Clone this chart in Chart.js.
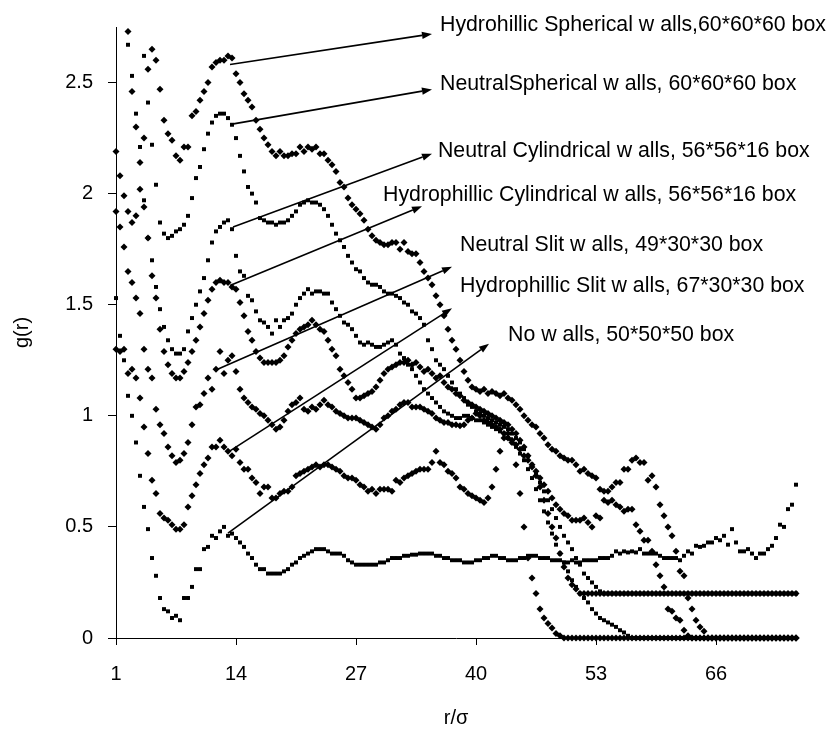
<!DOCTYPE html>
<html>
<head>
<meta charset="utf-8">
<script src="https://cdn.jsdelivr.net/npm/chart.js@4.4.1/dist/chart.umd.min.js"></script>
<style>
  html, body { margin: 0; padding: 0; background: #ffffff; }
  #wrap { width: 829px; height: 730px; }
</style>
</head>
<body>
<div id="wrap"><canvas id="c" width="829" height="730"></canvas></div>
<script>
// ---- sampling grid of r/sigma (category spacing: 30 samples per 13 units) ----
const rStart = 1;
const rStep = 13 / 30;
const xTickValues = [1, 14, 27, 40, 53, 66];
const yTickValues = [0, 0.5, 1, 1.5, 2, 2.5];

// ---- series values g(r), one per sample ----
const hydrophilicSpherical = [
  2.19, 2.08, 1.99, 1.92, 1.87, 1.90, 2.02, 2.25, 2.56, 2.65,
  2.60, 2.47, 2.33, 2.27, 2.24, 2.17, 2.15, 2.21, 2.21, 2.35,
  2.37, 2.42, 2.46, 2.50, 2.57, 2.59, 2.60, 2.60, 2.62, 2.61,
  2.54, 2.50, 2.45, 2.42, 2.39, 2.33, 2.29, 2.25, 2.22, 2.19,
  2.17, 2.19, 2.17, 2.17, 2.18, 2.18, 2.21, 2.19, 2.21, 2.20,
  2.21, 2.18, 2.18, 2.15, 2.13, 2.10, 2.05, 2.03, 1.98, 1.95,
  1.93, 1.91, 1.88, 1.84, 1.81, 1.79, 1.78, 1.77, 1.77, 1.78,
  1.78, 1.75, 1.78, 1.74, 1.73, 1.73, 1.69, 1.65, 1.62, 1.59,
  1.54, 1.50, 1.45, 1.39, 1.34, 1.30, 1.25, 1.20, 1.16, 1.13,
  1.12, 1.11, 1.12, 1.10, 1.11, 1.10, 1.09, 1.10, 1.08, 1.07,
  1.05, 1.03, 1.00, 0.98, 0.96, 0.95, 0.92, 0.90, 0.87, 0.85,
  0.84, 0.82, 0.81, 0.80, 0.80, 0.78, 0.75, 0.76, 0.74, 0.73,
  0.72, 0.67, 0.66, 0.66, 0.68, 0.70, 0.70, 0.76, 0.76, 0.80,
  0.81, 0.79, 0.79, 0.71, 0.73, 0.68, 0.60, 0.55, 0.50, 0.46,
  0.39, 0.30, 0.28, 0.18, 0.13, 0.08, 0.05, 0.03, 0, 0,
  0, 0, 0, 0, 0, 0, 0, 0, 0, 0,
  0, 0, 0, 0, 0, 0, 0, 0, 0, 0, 0
];
const neutralSpherical = [
  null, null, null, null, null, null, null, 2.62, 2.41, 2.22,
  2.04, 1.87, 1.82, 1.80, 1.81, 1.83, 1.84, 1.86, 1.90, 1.98,
  2.07, 2.12, 2.20, 2.27, 2.32, 2.35, 2.36, 2.36, 2.34, 2.31,
  2.25, 2.17, 2.10, 2.03, 2.00, 1.96, 1.89, 1.88, 1.87, 1.87,
  1.86, 1.87, 1.87, 1.88, 1.90, 1.92, 1.95, 1.96, 1.97, 1.96,
  1.96, 1.95, 1.93, 1.90, 1.86, 1.82, 1.79, 1.76, 1.72, 1.69,
  1.66, 1.65, 1.62, 1.60, 1.59, 1.59, 1.58, 1.56, 1.55, 1.55,
  1.54, 1.53, 1.51, 1.50, 1.47, 1.46, 1.44, 1.41, 1.34, 1.30,
  1.25, 1.23, 1.21, 1.18, 1.15, 1.12, 1.10, 1.08, 1.05, 1.04,
  1.02, 1.01, 1.00, 0.99, 0.98, 0.97, 0.96, 0.95, 0.94, 0.92,
  0.90, 0.88, 0.85, 0.82, 0.78, 0.74, 0.70, 0.66, 0.62, 0.58,
  0.54, 0.50, 0.46, 0.43, 0.40, 0.36, 0.33, 0.29, 0.27, 0.25,
  0.23, 0.21, 0.2, 0.2, 0.2, 0.2, 0.2, 0.2, 0.2, 0.2,
  0.2, 0.2, 0.2, 0.2, 0.2, 0.2, 0.2, 0.2, 0.2, 0.2,
  0.2, 0.2, 0.2, 0.2, 0.2, 0.2, 0.2, 0.2, 0.2, 0.2,
  0.2, 0.2, 0.2, 0.2, 0.2, 0.2, 0.2, 0.2, 0.2, 0.2,
  0.2, 0.2, 0.2, 0.2, 0.2, 0.2, 0.2, 0.2, 0.2, 0.2, 0.2
];
const neutralCylindrical = [
  null, null, null, 2.67, 2.53, 2.36, 2.21, 1.97, 1.80, 1.70,
  1.58, 1.48, 1.40, 1.34, 1.30, 1.28, 1.28, 1.30, 1.38, 1.44,
  1.50, 1.56, 1.62, 1.70, 1.78, 1.83, 1.85, 1.87, 1.88, 1.84,
  1.72, 1.65, 1.63, 1.54, 1.52, 1.47, 1.43, 1.42, 1.40, 1.37,
  1.43, 1.40, 1.43, 1.44, 1.46, 1.50, 1.53, 1.55, 1.57, 1.55,
  1.56, 1.56, 1.55, 1.55, 1.51, 1.48, 1.45, 1.42, 1.41, 1.39,
  1.36, 1.33, 1.32, 1.33, 1.32, 1.31, 1.31, 1.32, 1.33, 1.34,
  1.32, 1.28, 1.26, 1.23, 1.21, 1.18, 1.15, 1.12, 1.10, 1.08,
  1.06, 1.04, 1.02, 1.01, 1.00, 0.99, 0.99, 1.00, 1.00, 0.99,
  0.98, 0.98, 0.97, 0.96, 0.95, 0.94, 0.93, 0.92, 0.90, 0.88,
  0.86, 0.83, 0.80, 0.76, 0.72, 0.67, 0.62, 0.57, 0.52, 0.47,
  0.42, 0.38, 0.34, 0.30, 0.26, 0.23, 0.20, 0.18, 0.16, 0.13,
  0.11, 0.09, 0.08, 0.07, 0.06, 0.05, 0.035, 0.025, 0.01, 0,
  0, 0, 0, 0, 0, 0, 0, 0, 0, 0,
  0, 0, 0, 0, 0, 0, 0, 0, 0, 0,
  0, 0, 0, 0, 0, 0, 0, 0, 0, 0,
  0, 0, 0, 0, 0, 0, 0, 0, 0, 0, 0
];
const hydrophilicCylindrical = [
  null, null, null, 2.73, 2.46, 2.30, 2.14, 1.94, 1.80, 1.63,
  1.53, 1.39, 1.29, 1.23, 1.19, 1.17, 1.17, 1.20, 1.24, 1.29,
  1.34, 1.40, 1.46, 1.52, 1.57, 1.60, 1.61, 1.60, 1.60, 1.58,
  1.57, 1.51, 1.45, 1.38, 1.34, 1.29, 1.26, 1.24, 1.24, 1.24,
  1.24, 1.25, 1.27, 1.31, 1.34, 1.37, 1.39, 1.40, 1.41, 1.43,
  1.41, 1.39, 1.38, 1.34, 1.30, 1.27, 1.21, 1.18, 1.15, 1.12,
  1.08, 1.08, 1.09, 1.10, 1.11, 1.13, 1.16, 1.19, 1.21, 1.22,
  1.23, 1.24, 1.24, 1.25, 1.23, 1.24, 1.22, 1.20, 1.21, 1.19,
  1.17, 1.18, 1.15, 1.13, 1.12, 1.10, 1.09, 1.07, 1.06, 1.05,
  1.04, 1.03, 1.02, 1.01, 1.00, 0.99, 0.98, 0.97, 0.96, 0.94,
  0.92, 0.89, 0.86, 0.82, 0.78, 0.73, 0.68, 0.62, 0.56, 0.50,
  0.45, 0.38, 0.32, 0.27, 0.24, 0.22, 0.2, 0.2, 0.2, 0.2,
  0.2, 0.2, 0.2, 0.2, 0.2, 0.2, 0.2, 0.2, 0.2, 0.2,
  0.2, 0.2, 0.2, 0.2, 0.2, 0.2, 0.2, 0.2, 0.2, 0.2,
  0.2, 0.2, 0.2, 0.2, 0.2, 0.2, 0.2, 0.2, 0.2, 0.2,
  0.2, 0.2, 0.2, 0.2, 0.2, 0.2, 0.2, 0.2, 0.2, 0.2,
  0.2, 0.2, 0.2, 0.2, 0.2, 0.2, 0.2, 0.2, 0.2, 0.2, 0.2
];
const neutralSlit = [
  1.92, 1.85, 1.76, 1.65, 1.60, 1.53, 1.46, 1.30, 1.21, 1.17,
  1.03, 0.96, 0.92, 0.86, 0.82, 0.79, 0.80, 0.83, 0.88, 0.96,
  1.04, 1.05, 1.10, 1.17, 1.12, 1.21, 1.29, 1.19, 1.25, 1.27,
  1.20, 1.12, 1.08, 1.06, 1.04, 1.03, 1.01, 1.00, 0.98, 0.96,
  0.94, 0.95, 0.98, 1.02, 1.05, 1.06, 1.08, 1.03, 1.02, 1.04,
  1.03, 1.05, 1.07, 1.05, 1.04, 1.02, 1.01, 1.00, 0.99, 0.99,
  0.99, 0.98, 0.97, 0.96, 0.95, 0.94, 0.96, 0.99, 1.00, 1.02,
  1.03, 1.05, 1.06, 1.06, 1.04, 1.04, 1.04, 1.03, 1.02, 1.01,
  0.99, 0.98, 0.97, 0.97, 0.96, 0.96, 0.955, 0.96, 0.98, 0.99,
  1.01, 1.00, 0.98, 0.97, 0.96, 0.95, 0.94, 0.92, 0.90, 0.89,
  0.87, 0.85, 0.82, 0.80, 0.77, 0.75, 0.72, 0.69, 0.66, 0.63,
  0.60, 0.58, 0.56, 0.55, 0.53, 0.53, 0.53, 0.54, 0.52, 0.50,
  0.55, 0.54, 0.62, 0.61, 0.62, 0.60, 0.59, 0.57, 0.58, 0.58,
  0.51, 0.48, 0.44, 0.44, 0.39, 0.33, 0.28, 0.23, 0.13, 0.12,
  0.09, 0.08, 0.035, 0.01, 0, 0, 0, 0, 0, 0,
  0, 0, 0, 0, 0, 0, 0, 0, 0, 0,
  0, 0, 0, 0, 0, 0, 0, 0, 0, 0, 0
];
const hydrophilicSlit = [
  1.30, 1.29, 1.30, 1.19, 1.21, 1.17, 1.08, 0.95, 0.83, 0.71,
  0.65, 0.56, 0.54, 0.53, 0.51, 0.49, 0.49, 0.51, 0.59, 0.64,
  0.69, 0.74, 0.78, 0.81, 0.86, 0.86, 0.89, 0.86, 0.84, 0.82,
  0.85, 0.79, 0.76, 0.76, 0.72, 0.70, 0.65, 0.68, 0.68, 0.63,
  0.63, 0.65, 0.66, 0.66, 0.68, 0.73, 0.74, 0.75, 0.76, 0.77,
  0.78, 0.77, 0.78, 0.78, 0.77, 0.76, 0.75, 0.73, 0.72, 0.72,
  0.71, 0.69, 0.68, 0.66, 0.67, 0.65, 0.67, 0.67, 0.67, 0.66,
  0.71, 0.70, 0.72, 0.73, 0.74, 0.75, 0.76, 0.76, 0.76, 0.79,
  0.84, 0.79, 0.78, 0.75, 0.74, 0.72, 0.68, 0.67, 0.65, 0.64,
  0.63, 0.62, 0.61, 0.63, 0.68, 0.76, 0.84, 0.90, 0.92, 0.88,
  0.78, 0.65, 0.50, 0.36, 0.27, 0.20, 0.13, 0.09, 0.065, 0.045,
  0.02, 0.01, 0, 0, 0, 0, 0, 0, 0, 0,
  0, 0, 0, 0, 0, 0, 0, 0, 0, 0,
  0, 0, 0, 0, 0, 0, 0, 0, 0, 0,
  0, 0, 0, 0, 0, 0, 0, 0, 0, 0,
  0, 0, 0, 0, 0, 0, 0, 0, 0, 0,
  0, 0, 0, 0, 0, 0, 0, 0, 0, 0, 0
];
const noWalls = [
  1.53, 1.36, 1.25, 1.09, 1.00, 0.88, 0.73, 0.59, 0.49, 0.36,
  0.28, 0.18, 0.13, 0.12, 0.09, 0.10, 0.08, 0.18, 0.18, 0.23,
  0.31, 0.31, 0.40, 0.41, 0.46, 0.45, 0.48, 0.50, 0.46, 0.47,
  0.45, 0.43, 0.41, 0.38, 0.36, 0.33, 0.31, 0.31, 0.29, 0.29,
  0.29, 0.29, 0.30, 0.31, 0.33, 0.34, 0.36, 0.37, 0.38, 0.39,
  0.40, 0.40, 0.40, 0.39, 0.38, 0.38, 0.38, 0.37, 0.35, 0.34,
  0.33, 0.33, 0.33, 0.33, 0.33, 0.33, 0.34, 0.34, 0.35, 0.36,
  0.36, 0.36, 0.37, 0.37, 0.375, 0.375, 0.38, 0.38, 0.38, 0.38,
  0.37, 0.37, 0.36, 0.36, 0.35, 0.35, 0.35, 0.34, 0.34, 0.34,
  0.35, 0.35, 0.36, 0.36, 0.37, 0.37, 0.36, 0.36, 0.35, 0.35,
  0.35, 0.36, 0.36, 0.37, 0.37, 0.37, 0.36, 0.36, 0.36, 0.35,
  0.35, 0.35, 0.34, 0.34, 0.35, 0.34, 0.34, 0.35, 0.35, 0.35,
  0.35, 0.36, 0.36, 0.36, 0.37, 0.39, 0.38, 0.39, 0.385, 0.39,
  0.385, 0.40, 0.38, 0.38, 0.38, 0.38, 0.37, 0.36, 0.36, 0.36,
  0.36, 0.35, 0.37, 0.39, 0.38, 0.415, 0.41, 0.415, 0.43, 0.43,
  0.45, 0.44, 0.46, 0.42, 0.49, 0.43, 0.39, 0.39, 0.40, 0.38,
  0.36, 0.38, 0.38, 0.40, 0.415, 0.45, 0.51, 0.50, 0.58, 0.60, 0.69
];

// ---- annotation texts (label, arrow tail on the curve, arrow head, text anchor) in data units ----
const labelTexts = [
  'Hydrohillic Spherical w alls,60*60*60 box',
  'NeutralSpherical w alls, 60*60*60 box',
  'Neutral Cylindrical w alls, 56*56*16 box',
  'Hydrophillic Cylindrical w alls, 56*56*16 box',
  'Neutral Slit w alls, 49*30*30 box',
  'Hydrophillic Slit w alls, 67*30*30 box',
  'No w alls, 50*50*50 box'
];
const arrowTails = [[13.35, 2.581], [13.57, 2.313], [13.68, 1.850], [13.35, 1.587], [11.94, 1.208], [13.35, 0.842], [13.13, 0.472]];
const arrowHeads = [[35.23, 2.719], [35.23, 2.469], [35.23, 2.180], [34.15, 1.943], [37.40, 1.671], [37.40, 1.484], [41.41, 1.324]];
const textAnchors = [[36.10, 2.732], [36.10, 2.465], [35.88, 2.166], [29.93, 1.966], [38.27, 1.743], [38.27, 1.556], [43.47, 1.337]];

const FONT = "'Liberation Sans', Arial, Helvetica, sans-serif";
Chart.defaults.font.family = FONT;
Chart.defaults.color = '#000000';

const seriesList = [
  { name: 'Hydrophilic Spherical', values: hydrophilicSpherical, style: 'rectRot', r: 3.5 },
  { name: 'Neutral Spherical', values: neutralSpherical, style: 'rect', r: 2.8 },
  { name: 'Neutral Cylindrical', values: neutralCylindrical, style: 'rect', r: 2.8 },
  { name: 'Hydrophilic Cylindrical', values: hydrophilicCylindrical, style: 'rectRot', r: 3.5 },
  { name: 'Neutral Slit', values: neutralSlit, style: 'rectRot', r: 3.5 },
  { name: 'Hydrophilic Slit', values: hydrophilicSlit, style: 'rectRot', r: 3.5 },
  { name: 'No walls', values: noWalls, style: 'rect', r: 2.8 }
];
const nSamples = noWalls.length;
const rMax = rStart + (nSamples - 1) * rStep;

const datasets = seriesList.map(s => ({
  label: s.name,
  data: s.values.map((v, i) => ({ x: rStart + i * rStep, y: v })),
  showLine: false,
  pointStyle: s.style,
  pointRadius: s.r,
  pointHoverRadius: s.r,
  pointBackgroundColor: '#000000',
  pointBorderColor: '#000000',
  pointBorderWidth: 0,
  clip: false
}));

const annotationPlugin = {
  id: 'arrowLabels',
  afterDatasetsDraw(chart) {
    const { ctx, scales } = chart;
    const xs = scales.x, ys = scales.y;
    ctx.save();
    ctx.strokeStyle = '#000000';
    ctx.fillStyle = '#000000';
    ctx.lineWidth = 1.6;
    for (let k = 0; k < labelTexts.length; k++) {
      const x1 = xs.getPixelForValue(arrowTails[k][0]);
      const y1 = ys.getPixelForValue(arrowTails[k][1]);
      const x2 = xs.getPixelForValue(arrowHeads[k][0]);
      const y2 = ys.getPixelForValue(arrowHeads[k][1]);
      const ang = Math.atan2(y2 - y1, x2 - x1);
      const L = 10, W = 3.6;
      const bx = x2 - L * Math.cos(ang), by = y2 - L * Math.sin(ang);
      ctx.beginPath();
      ctx.moveTo(x1, y1);
      ctx.lineTo(bx, by);
      ctx.stroke();
      ctx.beginPath();
      ctx.moveTo(x2, y2);
      ctx.lineTo(bx + W * Math.sin(ang), by - W * Math.cos(ang));
      ctx.lineTo(bx - W * Math.sin(ang), by + W * Math.cos(ang));
      ctx.closePath();
      ctx.fill();
      ctx.font = '21.3px ' + FONT;
      ctx.textAlign = 'left';
      ctx.textBaseline = 'alphabetic';
      ctx.fillText(labelTexts[k], xs.getPixelForValue(textAnchors[k][0]), ys.getPixelForValue(textAnchors[k][1]));
    }
    ctx.restore();
  }
};

new Chart(document.getElementById('c'), {
  type: 'scatter',
  data: { datasets },
  plugins: [annotationPlugin],
  options: {
    responsive: false,
    animation: false,
    events: [],
    layout: { padding: { left: 0, right: 33, top: 21, bottom: 0 } },
    plugins: { legend: { display: false }, tooltip: { enabled: false } },
    scales: {
      x: {
        type: 'linear',
        min: rStart,
        max: rMax,
        afterBuildTicks: s => { s.ticks = xTickValues.map(v => ({ value: v })); },
        afterFit: s => { s.height = 92; },
        grid: { display: true, drawOnChartArea: false, drawTicks: true, tickLength: 7, color: '#000000', lineWidth: 1 },
        border: { display: true, color: '#000000', width: 1 },
        ticks: { font: { size: 20 }, color: '#000000', padding: 17, maxRotation: 0, autoSkip: false, callback: v => String(v) },
        title: { display: true, text: 'r/σ', font: { size: 20 }, color: '#000000', padding: { top: 0, bottom: 0 } }
      },
      y: {
        type: 'linear',
        min: 0,
        max: 2.75,
        afterBuildTicks: s => { s.ticks = yTickValues.map(v => ({ value: v })); },
        afterFit: s => { s.width = 116; },
        grid: { display: true, drawOnChartArea: false, drawTicks: true, tickLength: 8, color: '#000000', lineWidth: 1 },
        border: { display: true, color: '#000000', width: 1 },
        ticks: { font: { size: 20 }, color: '#000000', padding: 15, callback: v => String(v) },
        title: { display: true, text: 'g(r)', font: { size: 20 }, color: '#000000', padding: { top: 10, bottom: 0 } }
      }
    }
  }
});
</script>
</body>
</html>
